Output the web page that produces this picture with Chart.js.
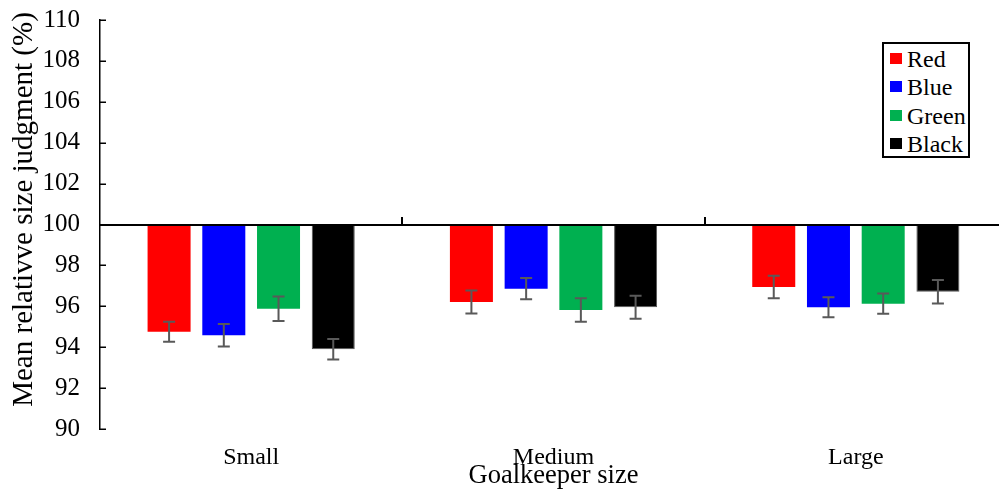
<!DOCTYPE html>
<html>
<head>
<meta charset="utf-8">
<script src="https://cdn.jsdelivr.net/npm/chart.js@4/dist/chart.umd.min.js"></script>
<style>
  html, body { margin: 0; padding: 0; background: #fff; overflow: hidden; }
  #wrap { position: relative; width: 999px; height: 497px; overflow: hidden; }
  #c { position: absolute; left: 0; top: 0; }
  #legend { position: absolute; left: 882px; top: 42px; width: 84px; height: 112px;
    border: 2px solid #000; background: #fff; font-family: "Liberation Serif", serif; font-size: 24px; }
  .item { position: absolute; left: 0; height: 28px; line-height: 28px; white-space: nowrap; }
  .sw { position: absolute; left: 6px; top: 8px; width: 12px; height: 11px; }
  .lbl { position: absolute; left: 23px; top: 0; }
</style>
</head>
<body>
<div id="wrap">
  <canvas id="c" width="1007" height="497" style="width:1007px;height:497px"></canvas>
  <div id="legend"></div>
</div>
<script>
const categories = ["Small", "Medium", "Large"];
const seriesNames = ["Red", "Blue", "Green", "Black"];
const seriesColors = ["#FF0000", "#0000FF", "#00B050", "#000000"];
const baseline = 100;
const redValues   = [94.76, 96.21, 96.94];
const blueValues  = [94.58, 96.86, 95.95];
const greenValues = [95.88, 95.82, 96.13];
const blackValues = [93.90, 95.95, 96.71];
const redErrors   = [0.49, 0.56, 0.55];
const blueErrors  = [0.55, 0.52, 0.49];
const greenErrors = [0.60, 0.57, 0.49];
const blackErrors = [0.50, 0.56, 0.57];
const yTicks = [90, 92, 94, 96, 98, 100, 102, 104, 106, 108, 110];
const yTitle = "Mean relativve size judgment (%)";
const xTitle = "Goalkeeper size";

const allValues = [redValues, blueValues, greenValues, blackValues];
const allErrors = [redErrors, blueErrors, greenErrors, blackErrors];

const FONT = "Liberation Serif";

const datasets = seriesNames.map((name, i) => ({
  label: name,
  data: allValues[i].map(v => [baseline, v]),
  errors: allErrors[i],
  backgroundColor: seriesColors[i],
  borderColor: i === 3 ? "#555555" : seriesColors[i],
  borderWidth: i === 3 ? 1 : 0,
  borderSkipped: false,
  categoryPercentage: 0.724,
  barPercentage: 0.786
}));

const decorPlugin = {
  id: "decor",
  afterDatasetsDraw(chart) {
    const ctx = chart.ctx;
    const x = chart.scales.x, y = chart.scales.y;
    const area = chart.chartArea;
    ctx.save();
    ctx.strokeStyle = "#595959";
    ctx.lineWidth = 2;
    chart.data.datasets.forEach((ds, di) => {
      const meta = chart.getDatasetMeta(di);
      meta.data.forEach((bar, j) => {
        const v = ds.data[j][1];
        const e = ds.errors[j];
        const cx = bar.x;
        const yt = y.getPixelForValue(v + e);
        const yb = y.getPixelForValue(v - e);
        ctx.beginPath();
        ctx.moveTo(cx, yt); ctx.lineTo(cx, yb);
        ctx.moveTo(cx - 6, yt); ctx.lineTo(cx + 6, yt);
        ctx.moveTo(cx - 6, yb); ctx.lineTo(cx + 6, yb);
        ctx.stroke();
      });
    });
    const y100 = Math.round(y.getPixelForValue(baseline));
    ctx.strokeStyle = "#000";
    ctx.lineWidth = 2;
    ctx.beginPath();
    ctx.moveTo(area.left, y100);
    ctx.lineTo(area.right, y100);
    ctx.stroke();
    for (let i = 0; i < categories.length - 1; i++) {
      const bx = Math.round((x.getPixelForTick(i) + x.getPixelForTick(i + 1)) / 2);
      ctx.beginPath();
      ctx.moveTo(bx, y100);
      ctx.lineTo(bx, y100 - 8);
      ctx.stroke();
    }
    ctx.lineWidth = 1.5;
    y.ticks.forEach(t => {
      const py = Math.round(y.getPixelForValue(t.value)) + 0.25;
      ctx.beginPath();
      ctx.moveTo(area.left, py);
      ctx.lineTo(area.left + 6, py);
      ctx.stroke();
    });
    // y axis title (rotated), centred slightly above the plot middle as in the reference
    ctx.fillStyle = "#000";
    ctx.font = "29px '" + FONT + "'";
    ctx.textAlign = "center";
    ctx.textBaseline = "middle";
    ctx.translate(24, (area.top + area.bottom) / 2 - 15);
    ctx.rotate(-Math.PI / 2);
    ctx.fillText(yTitle, 0, 0);
    ctx.restore();
  }
};

new Chart(document.getElementById("c"), {
  type: "bar",
  data: { labels: categories, datasets },
  options: {
    responsive: false,
    animation: false,
    devicePixelRatio: 1,
    layout: { padding: { top: 20, right: 0, left: 0, bottom: 0 } },
    plugins: { legend: { display: false }, tooltip: { enabled: false } },
    scales: {
      x: {
        grid: { display: false, drawTicks: false },
        border: { display: false },
        ticks: { color: "#000", font: { family: FONT, size: 24 }, padding: 14, maxRotation: 0 },
        title: { display: true, text: xTitle, color: "#000",
                 font: { family: FONT, size: 26.5 }, padding: { top: 0, bottom: 5 } },
        afterFit(s) { s.height = 68; s.paddingLeft = 0; s.paddingRight = 0; }
      },
      y: {
        min: 90, max: 110,
        afterBuildTicks(s) { s.ticks = yTicks.map(v => ({ value: v })); },
        grid: { display: false, drawTicks: false },
        border: { display: true, color: "#000", width: 1.5 },
        ticks: { color: "#000", font: { family: FONT, size: 25 }, padding: 20 },
        afterFit(s) { s.width = 100; s.paddingTop = 0; s.paddingBottom = 0; }
      }
    }
  },
  plugins: [decorPlugin]
});

const leg = document.getElementById("legend");
seriesNames.forEach((name, i) => {
  const it = document.createElement("div");
  it.className = "item";
  it.style.top = (1 + i * 28.3) + "px";
  const sw = document.createElement("span");
  sw.className = "sw";
  sw.style.background = seriesColors[i];
  const lb = document.createElement("span");
  lb.className = "lbl";
  lb.textContent = name;
  it.appendChild(sw); it.appendChild(lb);
  leg.appendChild(it);
});
</script>
</body>
</html>
